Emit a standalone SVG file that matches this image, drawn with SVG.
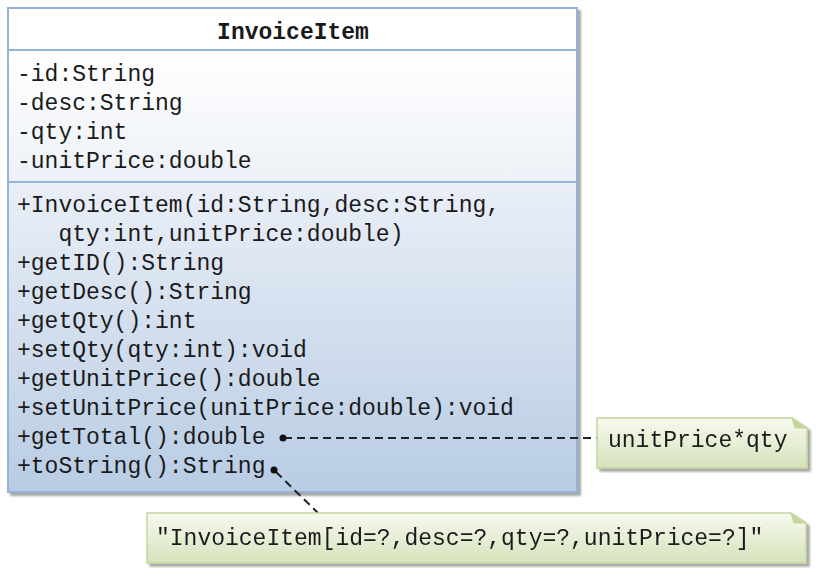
<svg xmlns="http://www.w3.org/2000/svg" width="819" height="579" viewBox="0 0 819 579">
<defs>
<linearGradient id="gAttr" x1="0" y1="0" x2="0" y2="1"><stop offset="0" stop-color="#ffffff"/><stop offset="1" stop-color="#edf1f7"/></linearGradient>
<linearGradient id="gMeth" x1="0" y1="0" x2="0" y2="1"><stop offset="0" stop-color="#eaeff7"/><stop offset="1" stop-color="#b8cce4"/></linearGradient>
<linearGradient id="gNote" x1="0" y1="0" x2="0" y2="1"><stop offset="0" stop-color="#f7f9ef"/><stop offset="1" stop-color="#d6e3bc"/></linearGradient>
<filter id="sh" x="-5%" y="-5%" width="115%" height="115%"><feGaussianBlur in="SourceAlpha" stdDeviation="1.2"/><feOffset dx="3" dy="3"/><feComponentTransfer><feFuncA type="linear" slope="0.35"/></feComponentTransfer><feMerge><feMergeNode/><feMergeNode in="SourceGraphic"/></feMerge></filter>
</defs>
<style>
text{font-family:"Liberation Mono","DejaVu Sans Mono",monospace;font-size:23px;fill:#1a1a1a}
.title{font-weight:bold;text-anchor:middle}
.box{stroke:#95b3d7;stroke-width:2}
.note{stroke:#c3d69b;stroke-width:1.5;fill:url(#gNote)}
.link{stroke:#222;stroke-width:2;stroke-dasharray:8 5;fill:none}
</style>
<g id="InvoiceItem">
<g filter="url(#sh)">
<rect x="8" y="8" width="569" height="484" fill="#ffffff" class="box"/>
</g>
<rect x="8" y="8" width="569" height="42" fill="#ffffff" class="box"/>
<rect x="8" y="50" width="569" height="132" fill="url(#gAttr)" class="box"/>
<rect x="8" y="182" width="569" height="310" fill="url(#gMeth)" class="box"/>
<text class="title" x="293" y="39">InvoiceItem</text>
<text x="17" y="81">-id:String</text>
<text x="17" y="110">-desc:String</text>
<text x="17" y="139">-qty:int</text>
<text x="17" y="168">-unitPrice:double</text>
<text x="17" y="212">+InvoiceItem(id:String,desc:String,</text>
<text x="58.4" y="241">qty:int,unitPrice:double)</text>
<text x="17" y="270">+getID():String</text>
<text x="17" y="299">+getDesc():String</text>
<text x="17" y="328">+getQty():int</text>
<text x="17" y="357">+setQty(qty:int):void</text>
<text x="17" y="386">+getUnitPrice():double</text>
<text x="17" y="415">+setUnitPrice(unitPrice:double):void</text>
<text x="17" y="444">+getTotal():double</text>
<text x="17" y="473">+toString():String</text>
</g>
<g id="connectors">
<line class="link" x1="284" y1="438" x2="597" y2="438"/>
<circle cx="283" cy="438" r="3.5" fill="#111"/>
<line class="link" x1="276" y1="472" x2="318" y2="513"/>
<circle cx="274" cy="470" r="3.5" fill="#111"/>
</g>
<g id="note1" filter="url(#sh)">
<path class="note" d="M597 418 H792 L807 428 V468 H597 Z"/>
<path d="M792 418 L795 428 H807" fill="#c3d69b" stroke="#c3d69b" stroke-width="1"/>
<text x="608" y="447">unitPrice*qty</text>
</g>
<g id="note2" filter="url(#sh)">
<path class="note" d="M147 513 H791 L806 523 V563 H147 Z"/>
<path d="M791 513 L794 523 H806" fill="#c3d69b" stroke="#c3d69b" stroke-width="1"/>
<text x="156" y="545">"InvoiceItem[id=?,desc=?,qty=?,unitPrice=?]"</text>
</g>
</svg>
